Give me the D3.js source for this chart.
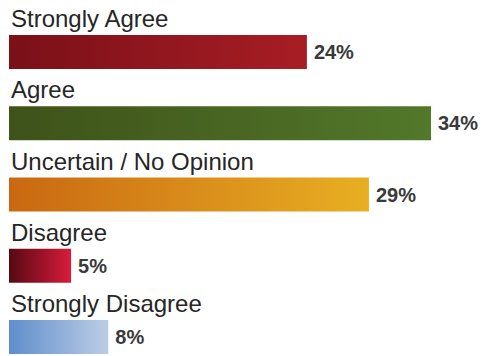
<!DOCTYPE html>
<html>
<head>
<meta charset="utf-8">
<script src="https://cdn.jsdelivr.net/npm/d3@7"></script>
<style>
  body { margin: 0; background: #fff; }
  svg { display: block; }
</style>
</head>
<body>
<div id="chart"></div>
<script>
// Chart data
const categories = ["Strongly Agree", "Agree", "Uncertain / No Opinion", "Disagree", "Strongly Disagree"];
const percents = [24, 34, 29, 5, 8];
const gradientStops = [
    ["#7a1018", "#a81d24"],
    ["#3e5219", "#52782a"],
    ["#c96812", "#e8af22"],
    ["#560912", "#d81c3c"],
    ["#5f8ecb", "#bccde6"]
];

const data = categories.map((c, i) => ({ name: c, value: percents[i], colors: gradientStops[i] }));

const width = 487, height = 356;

const svg = d3.select("#chart")
    .append("svg")
    .attr("width", width)
    .attr("height", height);

// Scales
const x = d3.scaleLinear()
    .domain([0, 34])
    .range([9, 431]);

const y = d3.scaleBand()
    .domain(categories)
    .range([35, 354])
    .paddingInner(0.523)
    .paddingOuter(0);

// Gradients, left to right
const defs = svg.append("defs");
data.forEach((d, i) => {
    const g = defs.append("linearGradient")
        .attr("id", "grad" + i)
        .attr("x1", "0%").attr("x2", "100%")
        .attr("y1", "0%").attr("y2", "0%");
    g.append("stop").attr("offset", "0%").attr("stop-color", d.colors[0]);
    g.append("stop").attr("offset", "100%").attr("stop-color", d.colors[1]);
});

// Bars
svg.selectAll(".bar")
    .data(data)
    .enter().append("rect")
    .attr("class", "bar")
    .attr("x", x(0))
    .attr("y", d => y(d.name))
    .attr("width", d => x(d.value) - x(0))
    .attr("height", y.bandwidth())
    .attr("fill", (d, i) => `url(#grad${i})`);

// Category labels above each bar
svg.selectAll(".cat-label")
    .data(data)
    .enter().append("text")
    .attr("class", "cat-label")
    .attr("x", x(0) + 2)
    .attr("y", d => y(d.name) - 8)
    .style("font-family", "Arial, 'Liberation Sans', sans-serif")
    .style("font-size", "24px")
    .style("fill", "#262626")
    .text(d => d.name);

// Value labels right of each bar
svg.selectAll(".val-label")
    .data(data)
    .enter().append("text")
    .attr("class", "val-label")
    .attr("x", d => x(d.value) + 7)
    .attr("y", d => y(d.name) + y.bandwidth() / 2 + 7)
    .style("font-family", "Arial, 'Liberation Sans', sans-serif")
    .style("font-size", "20px")
    .style("font-weight", "bold")
    .style("fill", "#3a3a3a")
    .text(d => d.value + "%");
</script>
</body>
</html>
